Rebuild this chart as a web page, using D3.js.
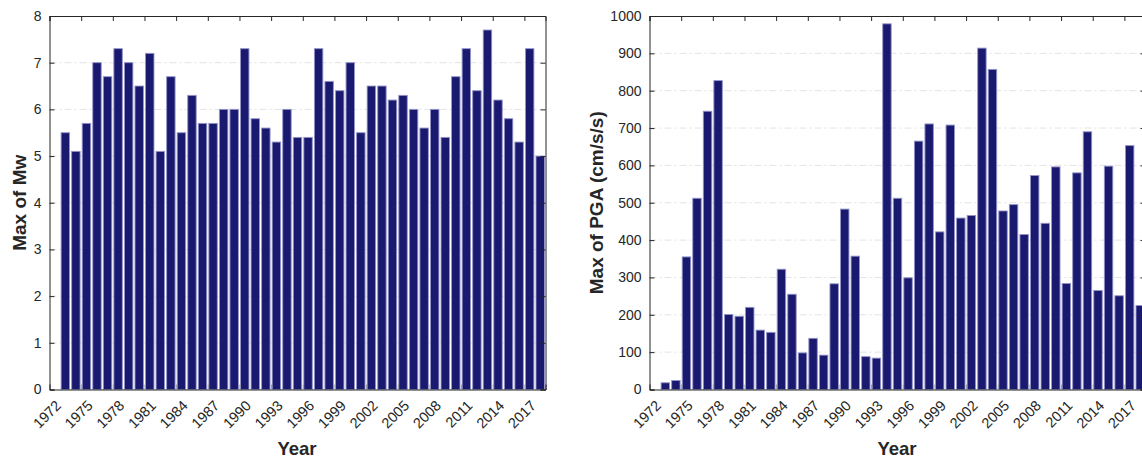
<!DOCTYPE html>
<html>
<head>
<meta charset="utf-8">
<script src="https://cdn.jsdelivr.net/npm/d3@7"></script>
<style>
  html, body { margin: 0; padding: 0; background: #ffffff; }
  svg { display: block; font-family: "Liberation Sans", Arial, Helvetica, sans-serif; }
</style>
</head>
<body>
<svg id="chart" width="1142" height="458"></svg>
<script>
// ---- data ----
const years = [1973,1974,1975,1976,1977,1978,1979,1980,1981,1982,1983,1984,1985,1986,1987,1988,1989,1990,1991,1992,
  1993,1994,1995,1996,1997,1998,1999,2000,2001,2002,2003,2004,2005,2006,2007,2008,2009,2010,2011,2012,2013,2014,2015,2016,2017,2018];
const maxMw = [5.5,5.1,5.7,7.0,6.7,7.3,7.0,6.5,7.2,5.1,6.7,5.5,6.3,5.7,5.7,6.0,6.0,7.3,5.8,5.6,
  5.3,6.0,5.4,5.4,7.3,6.6,6.4,7.0,5.5,6.5,6.5,6.2,6.3,6.0,5.6,6.0,5.4,6.7,7.3,6.4,7.7,6.2,5.8,5.3,7.3,5.0];
const maxPGA = [18,24,355,512,745,827,201,196,220,159,153,322,255,98,137,92,283,483,357,88,
  84,979,512,299,665,711,422,708,459,466,914,857,478,495,415,573,445,596,284,580,690,265,598,251,653,225];
const xTickYears = [1972,1975,1978,1981,1984,1987,1990,1993,1996,1999,2002,2005,2008,2011,2014,2017];
const mwTicks = [0,1,2,3,4,5,6,7,8];
const pgaTicks = [0,100,200,300,400,500,600,700,800,900,1000];
const yearDomain = [1972, 2019];

const svg = d3.select("#chart");
const axisColor = "#262626";
const barFill = "#191970";
const barEdge = "#9494c8";
const gridColor = "#e3e3e3";

function panel(opts) {
  const {left, right, top, bottom, values, yDomain, yTicks, yLabel, yLabelX, xLabelX} = opts;
  const g = svg.append("g");
  const x = d3.scaleLinear().domain(yearDomain).range([left, right]);
  const y = d3.scaleLinear().domain(yDomain).range([bottom, top]);

  // grid
  g.append("g").selectAll("line").data(yTicks.filter(t => t > yDomain[0] && t < yDomain[1])).join("line")
    .attr("x1", left).attr("x2", right)
    .attr("y1", d => y(d)).attr("y2", d => y(d))
    .attr("stroke", gridColor).attr("stroke-width", 1)
    .attr("stroke-dasharray", "7,3,2,3");

  // bars
  g.append("g").selectAll("rect").data(years.map((yr, i) => ({yr, v: values[i]}))).join("rect")
    .attr("x", d => x(d.yr + 0.1))
    .attr("width", d => x(d.yr + 0.9) - x(d.yr + 0.1))
    .attr("y", d => y(d.v))
    .attr("height", d => y(0) - y(d.v))
    .attr("fill", barFill)
    .attr("stroke", barEdge)
    .attr("stroke-width", 0.9);

  // axes (box with inward ticks)
  const tickLen = 5;
  const bottomAxis = d3.axisBottom(x).tickValues(xTickYears).tickSize(-tickLen).tickFormat(d3.format("d")).tickPadding(6);
  const topAxis = d3.axisTop(x).tickValues(xTickYears).tickSize(-tickLen).tickFormat("");
  const leftAxis = d3.axisLeft(y).tickValues(yTicks).tickSize(-tickLen).tickFormat(d3.format("d")).tickPadding(8);
  const rightAxis = d3.axisRight(y).tickValues(yTicks).tickSize(-tickLen).tickFormat("");

  const gb = g.append("g").attr("transform", `translate(0,${bottom})`).call(bottomAxis);
  const gt = g.append("g").attr("transform", `translate(0,${top})`).call(topAxis);
  const gl = g.append("g").attr("transform", `translate(${left},0)`).call(leftAxis);
  const gr = g.append("g").attr("transform", `translate(${right},0)`).call(rightAxis);
  [gb, gt, gl, gr].forEach(a => {
    a.select(".domain").attr("stroke", axisColor).attr("stroke-width", 1);
    a.selectAll(".tick line").attr("stroke", axisColor).attr("stroke-width", 1);
    a.selectAll("text").attr("fill", axisColor).style("font-size", "14px");
  });
  gb.selectAll(".tick line").attr("stroke", "#9a9aa6");
  gb.selectAll(".tick text")
    .attr("text-anchor", "end")
    .attr("dy", "0")
    .attr("transform", "translate(12,17) rotate(-45)")
    .attr("y", 0).attr("x", 0)
    .style("font-size", "14.5px");

  // labels
  g.append("text")
    .attr("transform", `translate(${yLabelX},${(top + bottom) / 2}) rotate(-90)`)
    .attr("text-anchor", "middle")
    .attr("fill", axisColor)
    .style("font-size", "19px").style("font-weight", "bold")
    .text(yLabel);
  g.append("text")
    .attr("x", xLabelX).attr("y", 455)
    .attr("text-anchor", "middle")
    .attr("fill", axisColor)
    .style("font-size", "18.5px").style("font-weight", "bold")
    .text("Year");
}

panel({left: 49.5, right: 545.5, top: 16, bottom: 389.5, values: maxMw, yDomain: [0, 8], yTicks: mwTicks,
  yLabel: "Max of Mw", yLabelX: 26, xLabelX: 297});
panel({left: 649.5, right: 1145.5, top: 16, bottom: 389.5, values: maxPGA, yDomain: [0, 1000], yTicks: pgaTicks,
  yLabel: "Max of PGA (cm/s/s)", yLabelX: 603, xLabelX: 897});
</script>
</body>
</html>
